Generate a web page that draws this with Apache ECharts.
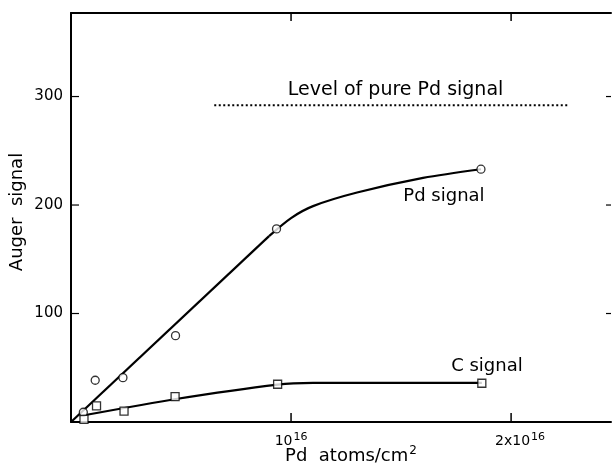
<!DOCTYPE html>
<html>
<head>
<meta charset="utf-8">
<script src="https://cdn.jsdelivr.net/npm/echarts@6/dist/echarts.min.js"></script>
<style>
html,body{margin:0;padding:0;background:#fff;}
#c{width:614px;height:468px;}
</style>
</head>
<body>
<div id="c"></div>
<script>
// ---- data (x in units of 10^16 Pd atoms/cm^2) ----
const pdPointsX = [0.056, 0.110, 0.236, 0.475, 0.934, 1.863];
const pdPointsY = [9, 38.5, 40.9, 79.6, 178, 233];
const cPointsX = [0.059, 0.116, 0.241, 0.473, 0.939, 1.867];
const cPointsY = [2.5, 14.8, 10.1, 23.3, 34.8, 35.7];
// fitted Pd curve: straight part + bending part
const pdLineX = [0, 0.9];
const pdLineY = [0, 171.3];
const pdBendX = [0.9, 1.0, 1.1, 1.3, 1.6, 1.863];
const pdBendY = [171.3, 188, 199, 211.5, 225, 233];
const cCurveX = [0.04, 0.47, 0.939, 1.1, 1.867];
const cCurveY = [5.5, 21, 34.5, 36, 36];
const levelX = [0.651, 2.266];
const levelY = [292, 292];
const xTickValues = [1, 2];
const yTickValues = [100, 200, 300];
const xTickLabels = {1: '10', 2: '2x10'};
const xTickExp = '16';
const xMax = 2.454, yMax = 377;

const zip = (a, b) => a.map((v, i) => [v, b[i]]);
const FONT = 'DejaVu Sans';

const chart = echarts.init(document.getElementById('c'), null, {renderer: 'canvas'});
const option = {
  animation: false,
  backgroundColor: '#fff',
  grid: {left: 71, right: 0, top: 13, bottom: 46},
  xAxis: [{
    type: 'value', min: 0, max: xMax, interval: 1, position: 'bottom',
    axisLine: {show: true, onZero: false, lineStyle: {color: '#000', width: 2}},
    axisTick: {show: false},
    splitLine: {show: false},
    axisLabel: {
      margin: 10,
      formatter: v => xTickLabels[v] ? (v === 2 ? '{m2|' + xTickLabels[v] + '}{s|' + xTickExp + '}' : '{m|' + xTickLabels[v] + '}{s|' + xTickExp + '}') : '',
      rich: {
        m: {fontFamily: FONT, fontSize: 14, color: '#000', verticalAlign: 'bottom', lineHeight: 16},
        m2: {fontFamily: FONT, fontSize: 14, color: '#000', verticalAlign: 'bottom', lineHeight: 16, padding: [0, 0, 0, 18]},
        s: {fontFamily: FONT, fontSize: 11, color: '#000', verticalAlign: 'top', lineHeight: 16, padding: [0, 0, 6, 1]}
      }
    }
  }, {
    type: 'value', min: 0, max: xMax, interval: 1, position: 'top',
    axisLine: {show: true, onZero: false, lineStyle: {color: '#000', width: 2}},
    axisTick: {show: false},
    splitLine: {show: false}, axisLabel: {show: false}
  }],
  yAxis: [{
    type: 'value', min: 0, max: yMax, interval: 100, position: 'left',
    axisLine: {show: true, onZero: false, lineStyle: {color: '#000', width: 2}},
    axisTick: {show: false},
    splitLine: {show: false},
    axisLabel: {
      margin: 8, color: '#000', fontFamily: FONT, fontSize: 15,
      formatter: v => yTickValues.indexOf(v) >= 0 ? String(v) : ''
    }
  }],
  series: [
    {type: 'line', data: zip(pdLineX, pdLineY), symbol: 'none',
     lineStyle: {color: '#000', width: 2.2}, z: 2},
    {type: 'line', data: zip(pdBendX, pdBendY), smooth: 0.3, symbol: 'none',
     lineStyle: {color: '#000', width: 2.2}, z: 2},
    {type: 'line', data: zip(cCurveX, cCurveY), smooth: 0.2, symbol: 'none',
     lineStyle: {color: '#000', width: 2.2}, z: 2},
    {type: 'line', data: zip(levelX, levelY), symbol: 'none',
     lineStyle: {color: '#000', width: 2, type: [2, 2.5]}, z: 2},
    {type: 'scatter', data: zip(pdPointsX, pdPointsY), symbol: 'circle', symbolSize: 8,
     itemStyle: {color: '#fff', borderColor: '#000', borderWidth: 1.3}, z: 3},
    {type: 'scatter', data: zip(cPointsX, cPointsY), symbol: 'rect', symbolSize: 8,
     itemStyle: {color: '#fff', borderColor: '#000', borderWidth: 1.3}, z: 3}
  ]
};
chart.setOption(option);

const toPx = (x, y) => chart.convertToPixel({xAxisIndex: 0, yAxisIndex: 0}, [x, y]);
const graphics = [];
// inward ticks on all four sides, positioned by the axis scales
const origin = toPx(0, 0), corner = toPx(xMax, yMax);
const tickStyle = {stroke: '#000', lineWidth: 1.5};
xTickValues.forEach(v => {
  const px = toPx(v, 0)[0];
  graphics.push({type: 'line', z: 5, shape: {x1: px, y1: origin[1], x2: px, y2: origin[1] - 9}, style: tickStyle});
  graphics.push({type: 'line', z: 5, shape: {x1: px, y1: corner[1], x2: px, y2: corner[1] + 8}, style: tickStyle});
});
yTickValues.forEach(v => {
  const py = toPx(0, v)[1];
  graphics.push({type: 'line', z: 5, shape: {x1: origin[0], y1: py, x2: origin[0] + 8, y2: py}, style: {stroke: '#000', lineWidth: 1.2}});
  graphics.push({type: 'line', z: 5, shape: {x1: corner[0], y1: py, x2: corner[0] - 5, y2: py}, style: {stroke: '#000', lineWidth: 1.2}});
});

// annotations anchored to data coordinates
const notes = [
  {text: 'Level of pure Pd signal', x: 1.475, y: 297, size: 19},
  {text: 'Pd signal', x: 1.695, y: 200, size: 18},
  {text: 'C signal', x: 1.89, y: 43, size: 18}
];
notes.forEach(n => {
  const p = toPx(n.x, n.y);
  graphics.push({type: 'text', x: p[0], y: p[1], z: 10,
    style: {text: n.text, fill: '#000', font: n.size + 'px "' + FONT + '"', textAlign: 'center', textVerticalAlign: 'bottom'}});
});
graphics.push({type: 'text', x: 351, y: 465, z: 10,
  style: {text: '{a|Pd  atoms/cm}{s|2}', textAlign: 'center', textVerticalAlign: 'bottom',
    rich: {a: {fontFamily: FONT, fontSize: 18, fill: '#000', verticalAlign: 'bottom', lineHeight: 20},
           s: {fontFamily: FONT, fontSize: 12, fill: '#000', verticalAlign: 'top', lineHeight: 20, padding: [0, 0, 8, 1]}}}});
graphics.push({type: 'text', x: 17, y: 212, rotation: Math.PI / 2, z: 10,
  style: {text: 'Auger  signal', fill: '#000', font: '18px "' + FONT + '"', textAlign: 'center', textVerticalAlign: 'middle'}});
chart.setOption({graphic: graphics});
</script>
</body>
</html>
